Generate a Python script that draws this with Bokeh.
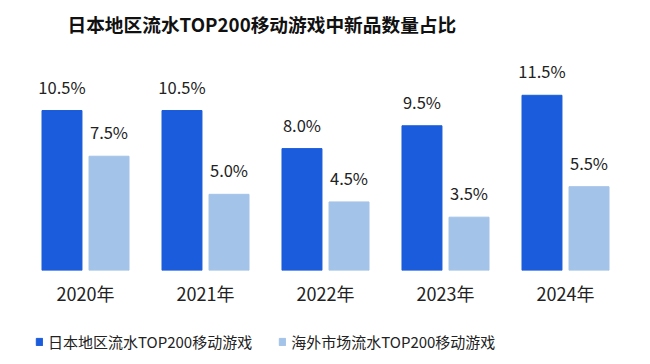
from bokeh.plotting import figure
from bokeh.layouts import column
from bokeh.models import ColumnDataSource, FactorRange, Range1d, LabelSet, Legend, LegendItem
from bokeh.transform import dodge
from bokeh.core.properties import value
from bokeh.embed import file_html
from bokeh.resources import INLINE

years = ["2020年", "2021年", "2022年", "2023年", "2024年"]
japan = [10.5, 10.5, 8.0, 9.5, 11.5]
overseas = [7.5, 5.0, 4.5, 3.5, 5.5]
series_names = ["日本地区流水TOP200移动游戏", "海外市场流水TOP200移动游戏"]
title_text = "日本地区流水TOP200移动游戏中新品数量占比"

DARK = "#1A5CDB"
LIGHT = "#A4C3E8"
FONT = "Noto Sans CJK SC"

src = ColumnDataSource(dict(
    year=years, japan=japan, overseas=overseas,
    japan_lbl=[f"{v:.1f}%" for v in japan],
    overseas_lbl=[f"{v:.1f}%" for v in overseas],
))

p = figure(x_range=FactorRange(*years), y_range=Range1d(0, 15.03),
           width=650, height=320, output_backend="svg", toolbar_location=None,
           y_axis_location=None,
           min_border_left=25, min_border_right=25, min_border_top=41, min_border_bottom=50)

off = 0.196
bw = 0.333
r1 = p.vbar(x=dodge("year", -off, range=p.x_range), top="japan", width=bw, source=src,
            fill_color=DARK, line_color=DARK)
r2 = p.vbar(x=dodge("year", off, range=p.x_range), top="overseas", width=bw, source=src,
            fill_color=LIGHT, line_color=LIGHT)

for col, d in (("japan", -off), ("overseas", off)):
    ls = LabelSet(x=dodge("year", d, range=p.x_range), y=col, text=col + "_lbl", source=src,
                  text_align="center", text_baseline="bottom", y_offset=12,
                  text_font=value(FONT), text_font_size="16.5px", text_color="#222222")
    p.add_layout(ls)

p.xaxis.axis_line_color = None
p.xaxis.major_tick_line_color = None
p.xaxis.minor_tick_line_color = None
p.xaxis.major_tick_out = 0
p.xaxis.major_label_standoff = 9
p.xaxis.major_label_text_font = FONT
p.xaxis.major_label_text_font_size = "18px"
p.xaxis.major_label_text_color = "#222222"
p.grid.grid_line_color = None
p.outline_line_color = None

p.title.text = title_text
p.title.text_font = FONT
p.title.text_font_size = "18.7px"
p.title.text_font_style = "bold"
p.title.text_color = "#111111"
p.title.align = "left"
p.title.offset = 42
p.title.standoff = 10

# legend strip below the chart (same series, hidden; only their legend swatches show)
p2 = figure(x_range=FactorRange(*years), y_range=Range1d(0, 15.03),
            width=650, height=44, output_backend="svg", toolbar_location=None,
            x_axis_location=None, y_axis_location=None, title=None, min_border=0)
p2.grid.grid_line_color = None
p2.outline_line_color = None
k1 = p2.vbar(x="year", top="japan", width=bw, source=src,
             fill_color=DARK, line_color=DARK, visible=False)
k2 = p2.vbar(x="year", top="overseas", width=bw, source=src,
             fill_color=LIGHT, line_color=LIGHT, visible=False)

legend = Legend(items=[LegendItem(label=series_names[0], renderers=[k1]),
                       LegendItem(label=series_names[1], renderers=[k2])],
                location=(10, 12), orientation="horizontal",
                glyph_width=8, glyph_height=9, label_standoff=5, spacing=26,
                padding=0, margin=0, border_line_color=None, background_fill_alpha=0,
                inactive_fill_alpha=0,
                label_text_font=FONT, label_text_font_size="15px", label_text_color="#222222")
p2.add_layout(legend, "center")

open("out.html", "w").write(file_html(column(p, p2), INLINE))
